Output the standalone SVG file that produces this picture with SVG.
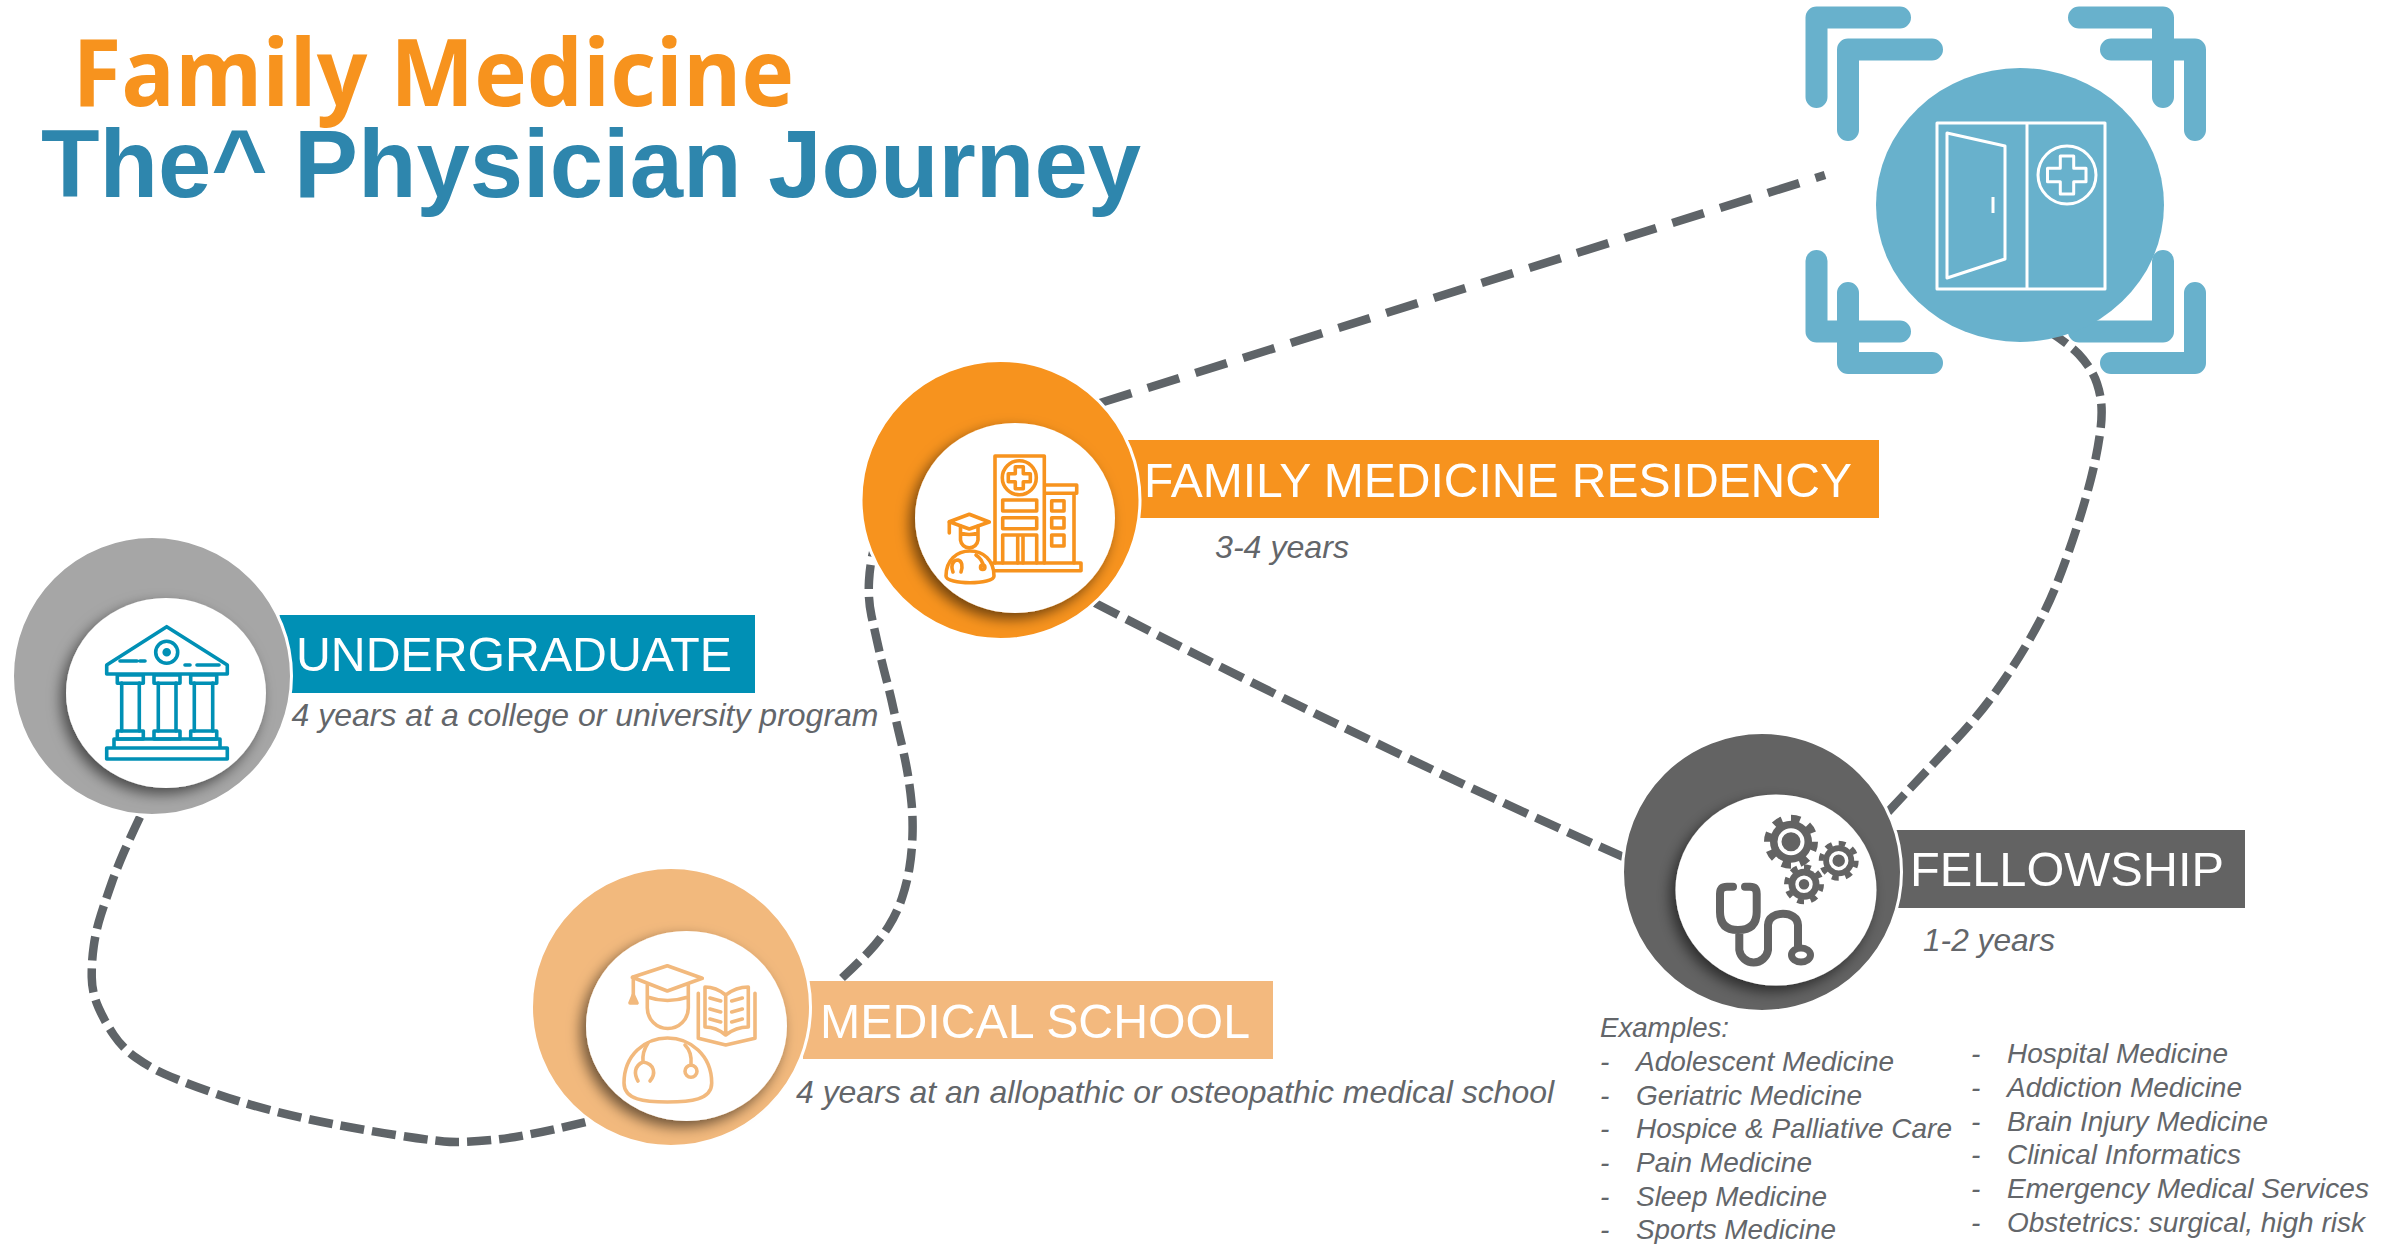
<svg xmlns="http://www.w3.org/2000/svg" width="2387" height="1244" viewBox="0 0 2387 1244">
<style>
text{font-family:"Liberation Sans",Arial,sans-serif}
.head{font-size:49px;fill:#fff}
.sub{font-size:32px;font-style:italic;fill:#63666a}
.li{font-size:28px;font-style:italic;fill:#63666a}
.conn{fill:none;stroke:#5f6468;stroke-width:8.5}
.ring{stroke:#fff;stroke-width:3}
.inner{fill:#fff;filter:url(#sh)}
.ic{fill:none;stroke-width:3.6;stroke-linejoin:round;stroke-linecap:round}
.u{stroke:#0090b5}.r{stroke:#f7931e}.m{stroke:#f2b97d}.f{stroke:#636363}
.door{fill:none;stroke:#fff;stroke-width:3;stroke-linejoin:round}
.br{fill:none;stroke:#68b1cc;stroke-width:22;stroke-linecap:round;stroke-linejoin:round}
</style>
<defs>
<filter id="sh" x="-30%" y="-30%" width="160%" height="160%"><feDropShadow dx="-5" dy="6" stdDeviation="7" flood-color="#000" flood-opacity="0.55"/></filter>
</defs>
<rect width="2387" height="1244" fill="#fff"/>
<g id="title">
<text x="72.5" y="106" font-size="94" font-weight="700" fill="#f7931e" style="font-family:'Open Sans',sans-serif" textLength="721.5" lengthAdjust="spacingAndGlyphs">Family Medicine</text>
<text x="41" y="197" font-size="97" font-weight="700" fill="#2e86ad" textLength="1100" lengthAdjust="spacingAndGlyphs">The^ Physician Journey</text>
</g>
<g id="brackets">
<path class="br" d="M1900,17.5H1816.5V97"/>
<path class="br" d="M1932,49.5H1848V130"/>
<path class="br" d="M2079,17.5H2163V97"/>
<path class="br" d="M2111,49.5H2195V130"/>
<path class="br" d="M1816.5,261V331.5H1900"/>
<path class="br" d="M1848,293V363H1932"/>
<path class="br" d="M2163,261V331.5H2079"/>
<path class="br" d="M2195,293V363H2111"/>
</g>
<g id="connectors">
<path class="conn" stroke-dasharray="24 8" d="M140,817Q130,838 123.5,853Q117,868 111.5,883.5Q106,899 101,914.5Q96,930 93.75,946Q91.5,962 91.75,977.5Q92,993 98.5,1007.5Q105,1022 113.75,1035Q122.5,1048 135.75,1057.5Q149,1067 164.5,1074Q180,1081 209.5,1091.5Q239,1102 270,1110Q301,1118 332.5,1124Q364,1130 396,1135Q428,1140 444,1141.5Q460,1143 492,1140Q524,1137 590,1121"/>
<path class="conn" stroke-dasharray="24 8" d="M842,978Q858,963 869,951.5Q880,940 888.5,926.5Q897,913 902,898Q907,883 909.5,867.5Q912,852 912.5,835Q913,818 911.5,802.5Q910,787 907.5,772.5Q905,758 901,741.5Q897,725 893.5,709Q890,693 886,678Q882,663 878.5,647.5Q875,632 871.5,616Q868,600 869,581Q870,562 875,545"/>
<path class="conn" stroke-dasharray="33 17" d="M1100,403L1825,175"/>
<path class="conn" stroke-dasharray="26 9" d="M1095,603Q1370,745 1630,860"/>
<path class="conn" stroke-dasharray="24 8" d="M1888,812Q1935,762 1957,738.5Q1979,715 1997,690Q2015,665 2031,637Q2047,609 2057.5,582Q2068,555 2076.5,528.5Q2085,502 2091,478.5Q2097,455 2100,433.5Q2103,412 2100.5,397.5Q2098,383 2092.5,373Q2087,363 2078.5,354Q2070,345 2050,332"/>
</g>
<g id="node-undergraduate">
<rect x="279.5" y="615" width="475.5" height="78" fill="#0090b5"/>
<circle class="ring" cx="152" cy="676" r="139.5" fill="#a6a6a6"/>
<ellipse class="inner" cx="166" cy="693" rx="100" ry="95"/>
<g class="ic u">
<path d="M106.7,665L166.7,626.7L227.3,665V674H106.7Z"/>
<path d="M120,661H137M140,661H145M185,665H190M197,665H219"/>
<circle cx="166.7" cy="652.3" r="11"/>
<circle cx="166.7" cy="652.3" r="2.5" fill="#0090b5"/>
<path d="M117.3,675H143.3V683.3H117.3ZM154,675H180V683.3H154ZM190.7,675H216.7V683.3H190.7Z"/>
<path d="M121.7,683V731M139.3,683V731M158.3,683V731M176,683V731M194.3,683V731M212.7,683V731"/>
<path d="M117.3,731H143.3V739H117.3ZM154,731H180V739H154ZM190.7,731H216.7V739H190.7Z"/>
<path d="M114,739H220V748H114ZM106.7,748H227.3V759H106.7Z"/>
</g>
<text class="head" x="296" y="671" textLength="436" lengthAdjust="spacingAndGlyphs">UNDERGRADUATE</text>
<text class="sub" x="291.5" y="726" textLength="587" lengthAdjust="spacingAndGlyphs">4 years at a college or university program</text>
</g>
<g id="node-medical-school">
<rect x="803" y="981" width="470" height="78" fill="#f3b97e"/>
<circle class="ring" cx="671" cy="1007" r="139.5" fill="#f2b97d"/>
<ellipse class="inner" cx="686.5" cy="1026" rx="100.5" ry="95"/>
<g class="ic m">
<path d="M667.3,965.7L702.3,978.3L667.3,991L632.3,977.3Z"/>
<path d="M633.3,977V998"/>
<path d="M630,1003L633.3,995L637,1003Z" fill="#f2b97d"/>
<path d="M647.3,985V1008A20.5,20.5 0 0 0 688.3,1008V985M647.3,997Q667.3,1004 688.3,997"/>
<path d="M624,1083C624,1055 645,1038 667.5,1038C690,1038 711.7,1055 711.7,1083C711.7,1100 690,1102 667.5,1102C645,1102 624,1100 624,1083Z"/>
<path d="M648,1043Q642,1052 643,1062C634,1066 634,1074 638,1081M643,1062C655,1064 656,1074 650,1081"/>
<path d="M685,1045Q692,1052 691,1064"/>
<circle cx="691" cy="1071.3" r="6"/>
<path d="M698.3,993.3V1038.3L725.7,1045L755,1038.3V993.3"/>
<path d="M725.7,995Q716,987 705,987V1027Q716,1027 725.7,1035Q736,1027 748.3,1027V987Q736,987 725.7,995V1035"/>
<path d="M710,998L720.7,1001M710,1009L720.7,1012M710,1019L720.7,1022M731.7,1001L742.3,998M731.7,1012L742.3,1009M731.7,1022L742.3,1019"/>
</g>
<text class="head" x="820" y="1038" textLength="430" lengthAdjust="spacingAndGlyphs">MEDICAL SCHOOL</text>
<text class="sub" x="796" y="1103" textLength="758" lengthAdjust="spacingAndGlyphs">4 years at an allopathic or osteopathic medical school</text>
</g>
<g id="node-residency">
<rect x="1128" y="440" width="751" height="78" fill="#f7931e"/>
<circle class="ring" cx="1000.5" cy="500" r="139.5" fill="#f7931e"/>
<ellipse class="inner" cx="1015" cy="518" rx="100" ry="95"/>
<g class="ic r">
<path d="M995,563V456H1044.3V563"/>
<circle cx="1019.3" cy="477.7" r="17"/>
<path d="M1015.3,466.7H1023.3V473.7H1030.3V481.7H1023.3V488.7H1015.3V481.7H1008.3V473.7H1015.3Z"/>
<path d="M1002.7,500H1036.7V511H1002.7ZM1002.7,517.7H1036.7V528.7H1002.7ZM1002.7,563V535H1036.7V563M1017.7,535V563M1023,535V563"/>
<path d="M1045,485H1076.7V493.3H1045M1074,493.3V563"/>
<path d="M1051.7,500.7H1064V511H1051.7ZM1051.7,517.7H1064V528H1051.7ZM1051.7,535H1064V546H1051.7Z"/>
<path d="M993,563H1081V570.7H995"/>
<path d="M946,576C946,560 957,551 970,551C983,551 994,560 994,576C994,585 946,585 946,576Z"/>
<path d="M953,572C950,564 954,560 958,560C962,561 963,566 961,572M976,555Q983,560 983,566"/>
<circle cx="982.7" cy="567.3" r="2.2"/>
<path d="M969.3,514.3L989.3,522L969.3,529L949.3,521.7Z"/>
<path d="M949.3,522V533M960.5,526V540A8.8,8.8 0 0 0 978,540V526M960.5,533Q969,536 978,533"/>
</g>
<text class="head" x="1144" y="497" textLength="708" lengthAdjust="spacingAndGlyphs">FAMILY MEDICINE RESIDENCY</text>
<text class="sub" x="1215" y="558" textLength="134" lengthAdjust="spacingAndGlyphs">3-4 years</text>
</g>
<g id="node-fellowship">
<rect x="1880" y="830" width="365" height="78" fill="#636363"/>
<circle class="ring" cx="1762" cy="872" r="139.5" fill="#636363"/>
<ellipse class="inner" cx="1776" cy="890" rx="100.5" ry="95.5"/>
<g>
<circle cx="1791" cy="841.7" r="21" fill="#636363"/>
<circle cx="1791" cy="841.7" r="23.5" fill="none" stroke="#636363" stroke-width="7" pathLength="16" stroke-dasharray="1 1"/>
<circle cx="1791" cy="841.7" r="11.5" fill="#636363" stroke="#fff" stroke-width="4"/>
<circle cx="1838.7" cy="860.7" r="15.5" fill="#636363"/>
<circle cx="1838.7" cy="860.7" r="17.5" fill="none" stroke="#636363" stroke-width="5" pathLength="16" stroke-dasharray="1 1"/>
<circle cx="1838.7" cy="860.7" r="8" fill="#636363" stroke="#fff" stroke-width="3.5"/>
<circle cx="1804" cy="884.3" r="15.5" fill="#636363"/>
<circle cx="1804" cy="884.3" r="17.5" fill="none" stroke="#636363" stroke-width="5" pathLength="16" stroke-dasharray="1 1"/>
<circle cx="1804" cy="884.3" r="7" fill="#636363" stroke="#fff" stroke-width="3.5"/>
<path fill="none" stroke="#636363" stroke-width="8" stroke-linecap="round" d="M1733,886.7H1727Q1720,886.7 1720,894V912Q1720,930 1738,930Q1756.7,930 1756.7,912V894Q1756.7,886.7 1750,886.7H1745M1739.3,930V950A14.5,14.5 0 0 0 1768,950V925C1768,910 1798,910 1798,925V947"/>
<ellipse cx="1801" cy="955" rx="9.5" ry="7" fill="#fff" stroke="#636363" stroke-width="7"/>
</g>
<text class="head" x="1910" y="886" textLength="314" lengthAdjust="spacingAndGlyphs">FELLOWSHIP</text>
<text class="sub" x="1923" y="951" textLength="132" lengthAdjust="spacingAndGlyphs">1-2 years</text>
<g id="fellowship-examples">
<text class="li" x="1600" y="1037" textLength="129" lengthAdjust="spacingAndGlyphs">Examples:</text>
<text class="li" x="1600" y="1071">-</text><text class="li" x="1636" y="1071" textLength="258" lengthAdjust="spacingAndGlyphs">Adolescent Medicine</text>
<text class="li" x="1600" y="1105">-</text><text class="li" x="1636" y="1105" textLength="226" lengthAdjust="spacingAndGlyphs">Geriatric Medicine</text>
<text class="li" x="1600" y="1138">-</text><text class="li" x="1636" y="1138" textLength="316" lengthAdjust="spacingAndGlyphs">Hospice &amp; Palliative Care</text>
<text class="li" x="1600" y="1172">-</text><text class="li" x="1636" y="1172" textLength="176" lengthAdjust="spacingAndGlyphs">Pain Medicine</text>
<text class="li" x="1600" y="1206">-</text><text class="li" x="1636" y="1206" textLength="191" lengthAdjust="spacingAndGlyphs">Sleep Medicine</text>
<text class="li" x="1600" y="1239">-</text><text class="li" x="1636" y="1239" textLength="200" lengthAdjust="spacingAndGlyphs">Sports Medicine</text>
<text class="li" x="1971" y="1063">-</text><text class="li" x="2007" y="1063" textLength="221" lengthAdjust="spacingAndGlyphs">Hospital Medicine</text>
<text class="li" x="1971" y="1097">-</text><text class="li" x="2007" y="1097" textLength="235" lengthAdjust="spacingAndGlyphs">Addiction Medicine</text>
<text class="li" x="1971" y="1131">-</text><text class="li" x="2007" y="1131" textLength="261" lengthAdjust="spacingAndGlyphs">Brain Injury Medicine</text>
<text class="li" x="1971" y="1164">-</text><text class="li" x="2007" y="1164" textLength="234" lengthAdjust="spacingAndGlyphs">Clinical Informatics</text>
<text class="li" x="1971" y="1198">-</text><text class="li" x="2007" y="1198" textLength="362" lengthAdjust="spacingAndGlyphs">Emergency Medical Services</text>
<text class="li" x="1971" y="1232">-</text><text class="li" x="2007" y="1232" textLength="358" lengthAdjust="spacingAndGlyphs">Obstetrics: surgical, high risk</text>
</g>
</g>
<g id="node-practice">
<ellipse cx="2020" cy="205" rx="144" ry="137" fill="#68b1cc"/>
<g class="door">
<rect x="1937" y="123" width="168" height="166"/>
<path d="M2027,123V289"/>
<path d="M1947,133L2005,146V259L1947,278Z"/>
<path d="M1993,197V213"/>
<circle cx="2067" cy="175" r="29"/>
<path d="M2060.3,156H2073.7V168.3H2086V181.7H2073.7V194H2060.3V181.7H2047.5V168.3H2060.3Z"/>
</g>
</g>
</svg>
